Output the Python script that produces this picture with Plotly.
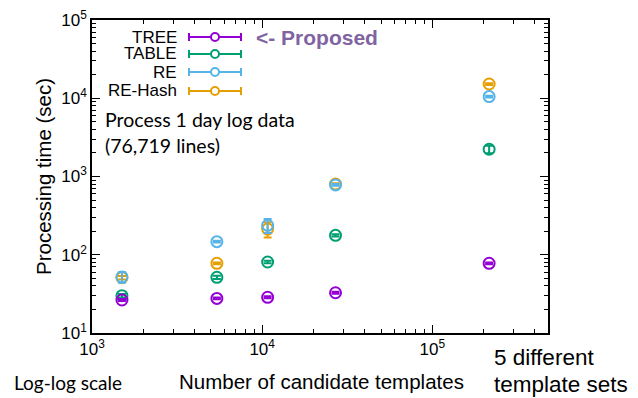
import plotly.graph_objects as go

# ---- data ----
num_templates = [1500, 5420, 10770, 26990, 215800]
series_names = ["TREE", "TABLE", "RE", "RE-Hash"]
tree_time = [26.4, 27.7, 28.6, 32.7, 77.8]
tree_err = [0.8, 0.8, 0.8, 1.0, 2.0]
table_time = [30.0, 51.5, 80.8, 177, 2230]
table_err = [1.5, 2.5, 3.0, 6.0, 250]
re_time = [52, 147, 238, 780, 10500]
re_err = [8, 4, 48, 20, 300]
rehash_time = [50.9, 77.8, 213, 802, 15200]
rehash_err = [2.5, 2.0, 47, 20, 400]
colors = ["#9400D3", "#009E73", "#56B4E9", "#E69F00"]

x_major = [1e3, 1e4, 1e5]
x_major_text = ["10<sup>3</sup>", "10<sup>4</sup>", "10<sup>5</sup>"]
y_major = [1e1, 1e2, 1e3, 1e4, 1e5]
y_major_text = ["10<sup>1</sup>", "10<sup>2</sup>", "10<sup>3</sup>", "10<sup>4</sup>", "10<sup>5</sup>"]

# ---- geometry (page body has an 8px margin) ----
OFF = 8
W, H = 638 - OFF, 398 - OFF
L, R, T, B = 92 - OFF, 90, 20 - OFF, 65
pw, ph = W - L - R, H - T - B

def px(xp):
    return (xp - OFF - L) / pw

def py(yp):
    return (H - B - (yp - OFF)) / ph

fig = go.Figure()
all_y = [tree_time, table_time, re_time, rehash_time]
all_e = [tree_err, table_err, re_err, rehash_err]
draw_order = [3, 2, 1, 0]
for i in draw_order:
    fig.add_trace(go.Scatter(
        x=num_templates, y=all_y[i], mode="markers", name=series_names[i],
        marker=dict(symbol="circle-open", size=11, color=colors[i], line=dict(width=2, color=colors[i])),
        error_y=dict(type="data", array=all_e[i], color=colors[i], thickness=2, width=4),
        showlegend=False,
    ))

minor_x = [m * 10 ** d for d in range(3, 6) for m in range(2, 10)]
minor_y = [m * 10 ** d for d in range(1, 5) for m in range(2, 10)]

axis_common = dict(
    type="log", showline=True, linecolor="black", linewidth=1.5, mirror="allticks",
    ticks="inside", ticklen=8, tickwidth=1, tickcolor="black", showgrid=False, zeroline=False,
    ticklabeloverflow="allow",
    tickfont=dict(family="Liberation Sans, Arial", size=17, color="black"),
)

fig.update_layout(
    width=W, height=H, margin=dict(l=L, r=R, t=T, b=B, autoexpand=False),
    paper_bgcolor="white", plot_bgcolor="white",
    xaxis=dict(axis_common, range=[3, 5.68], tickmode="array", tickvals=x_major, ticktext=x_major_text,
               minor=dict(tickmode="array", tickvals=minor_x, ticks="inside", ticklen=4, tickcolor="black", showgrid=False)),
    yaxis=dict(axis_common, range=[1, 5], tickmode="array", tickvals=y_major, ticktext=y_major_text,
               minor=dict(tickmode="array", tickvals=minor_y, ticks="inside", ticklen=4, tickcolor="black", showgrid=False)),
    showlegend=False,
)

ann = []
shapes = []
# legend
leg_y = [37, 54, 72, 91]
for k, name in enumerate(series_names):
    yy = py(leg_y[k])
    ann.append(dict(xref="paper", yref="paper", x=px(179), y=yy, xanchor="right", yanchor="middle",
                    text=name, showarrow=False, font=dict(family="Liberation Sans, Arial", size=17, color="black")))
    shapes.append(dict(type="line", xref="paper", yref="paper", x0=px(189), x1=px(241), y0=yy, y1=yy,
                       line=dict(color=colors[k], width=2)))
    for xe in (189, 241):
        shapes.append(dict(type="line", xref="paper", yref="paper", x0=px(xe), x1=px(xe),
                           y0=py(leg_y[k] - 4), y1=py(leg_y[k] + 4), line=dict(color=colors[k], width=2)))
    shapes.append(dict(type="circle", xref="paper", yref="paper", x0=px(211), x1=px(219),
                       y0=py(leg_y[k] - 4), y1=py(leg_y[k] + 4), fillcolor="white",
                       line=dict(color=colors[k], width=2)))

ann.append(dict(xref="paper", yref="paper", x=px(254), y=py(38), xanchor="left", yanchor="middle",
                text="<b><- Proposed</b>", showarrow=False,
                font=dict(family="Liberation Sans, Arial", size=21, color="#8064A2")))
ann.append(dict(xref="paper", yref="paper", x=px(103), y=py(119), xanchor="left", yanchor="middle",
                text="Process 1 day log data", showarrow=False,
                font=dict(family="Lato, Open Sans", size=19.5, color="black")))
ann.append(dict(xref="paper", yref="paper", x=px(103), y=py(145), xanchor="left", yanchor="middle",
                text="(76,719 lines)", showarrow=False,
                font=dict(family="Lato, Open Sans", size=19.5, color="black")))
# axis titles
ann.append(dict(xref="paper", yref="paper", x=px(43), y=py(177), xanchor="center", yanchor="middle",
                text="Processing time (sec)", textangle=-90, showarrow=False,
                font=dict(family="Liberation Sans, Arial", size=20.5, color="black")))
ann.append(dict(xref="paper", yref="paper", x=px(321), y=py(381), xanchor="center", yanchor="middle",
                text="Number of candidate templates", showarrow=False,
                font=dict(family="Liberation Sans, Arial", size=20.5, color="black")))
ann.append(dict(xref="paper", yref="paper", x=px(12), y=py(382), xanchor="left", yanchor="middle",
                text="Log-log scale", showarrow=False,
                font=dict(family="Lato, Open Sans", size=19, color="black")))
ann.append(dict(xref="paper", yref="paper", x=px(492), y=py(357), xanchor="left", yanchor="middle",
                text="5 different", showarrow=False,
                font=dict(family="Liberation Sans, Arial", size=22.5, color="black")))
ann.append(dict(xref="paper", yref="paper", x=px(492), y=py(384), xanchor="left", yanchor="middle",
                text="template sets", showarrow=False,
                font=dict(family="Liberation Sans, Arial", size=22.5, color="black")))

fig.update_layout(annotations=ann, shapes=shapes)
fig.write_html("out.html")
